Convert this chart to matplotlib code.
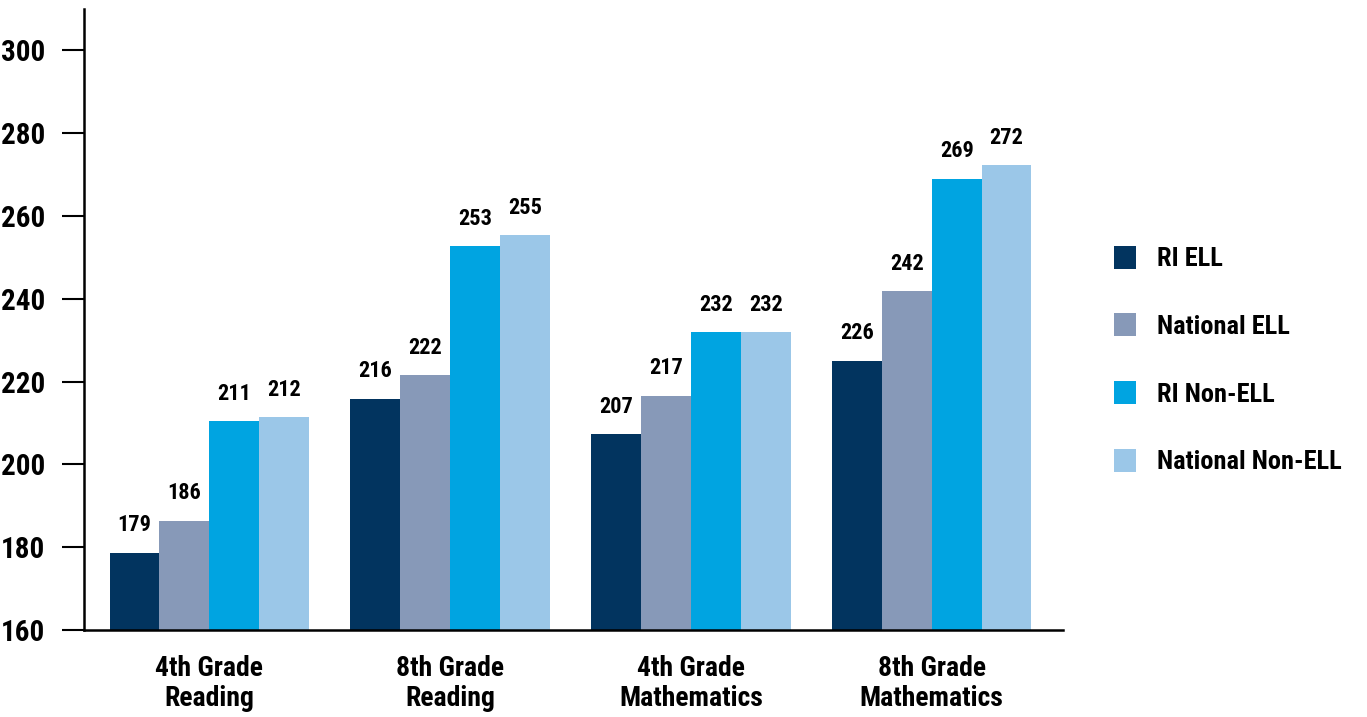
import matplotlib
matplotlib.use("Agg")
import matplotlib.pyplot as plt
from matplotlib import font_manager
from matplotlib.patches import Patch
import numpy as np

categories = ["4th Grade\nReading", "8th Grade\nReading", "4th Grade\nMathematics", "8th Grade\nMathematics"]
series_names = ["RI ELL", "National ELL", "RI Non-ELL", "National Non-ELL"]
ri_ell = [178.7, 215.8, 207.3, 225.0]
national_ell = [186.3, 221.5, 216.5, 241.8]
ri_non_ell = [210.4, 252.7, 231.9, 268.9]
national_non_ell = [211.4, 255.3, 231.9, 272.2]
ri_ell_labels = ["179", "216", "207", "226"]
national_ell_labels = ["186", "222", "217", "242"]
ri_non_ell_labels = ["211", "253", "232", "269"]
national_non_ell_labels = ["212", "255", "232", "272"]
yticks = [160, 180, 200, 220, 240, 260, 280, 300]

colors = ["#02345f", "#8799b8", "#00a4e1", "#9bc7e8"]

avail = {f.name for f in font_manager.fontManager.ttflist}
fam = None
for cand in ["Liberation Sans Narrow", "Roboto Condensed", "DejaVu Sans"]:
    if cand in avail:
        fam = cand
        break
plt.rcParams['font.family'] = [fam, 'DejaVu Sans']

fig = plt.figure(figsize=(13.67, 7.17), dpi=100)
ax = fig.add_axes([84/1367, 1 - 630/717, (1063-84)/1367, (630-9)/717])

x = np.arange(len(categories))
w = 0.207
all_vals = [ri_ell, national_ell, ri_non_ell, national_non_ell]
all_labels = [ri_ell_labels, national_ell_labels, ri_non_ell_labels, national_non_ell_labels]
for i, (vals, labs) in enumerate(zip(all_vals, all_labels)):
    xs = x + (i - 1.5) * w
    ax.bar(xs, np.array(vals) - 160, bottom=160, width=w, color=colors[i], label=series_names[i])
    for xi, v, lab in zip(xs, vals, labs):
        ax.annotate(lab, (xi, v), xytext=(0, 12), textcoords='offset points',
                    ha='center', va='bottom', fontsize=16, fontweight='bold')

ax.set_ylim(160, 310)
ax.set_xlim(-0.52, 3.545)
ax.set_yticks(yticks)
ax.set_yticklabels([str(t) for t in yticks], fontsize=21, fontweight='bold')
ax.set_xticks(x)
ax.set_xticklabels(categories, fontsize=20, fontweight='bold', linespacing=1.15)
ax.tick_params(axis='y', direction='out', length=16, width=1.5, pad=12)
ax.tick_params(axis='x', length=0, pad=18)
for s in ['top', 'right']:
    ax.spines[s].set_visible(False)
ax.spines['left'].set_linewidth(1.8)
ax.spines['bottom'].set_linewidth(1.8)

handles = [Patch(facecolor=c, edgecolor='none') for c in colors]
fig.legend(handles, series_names, loc='center left', bbox_to_anchor=(1090/1367, 1 - 360/717),
           frameon=False, handlelength=0.85, handleheight=0.95, handletextpad=0.8,
           labelspacing=1.6, prop={'size': 19, 'weight': 'bold'})

fig.savefig("out.png", dpi=100)
